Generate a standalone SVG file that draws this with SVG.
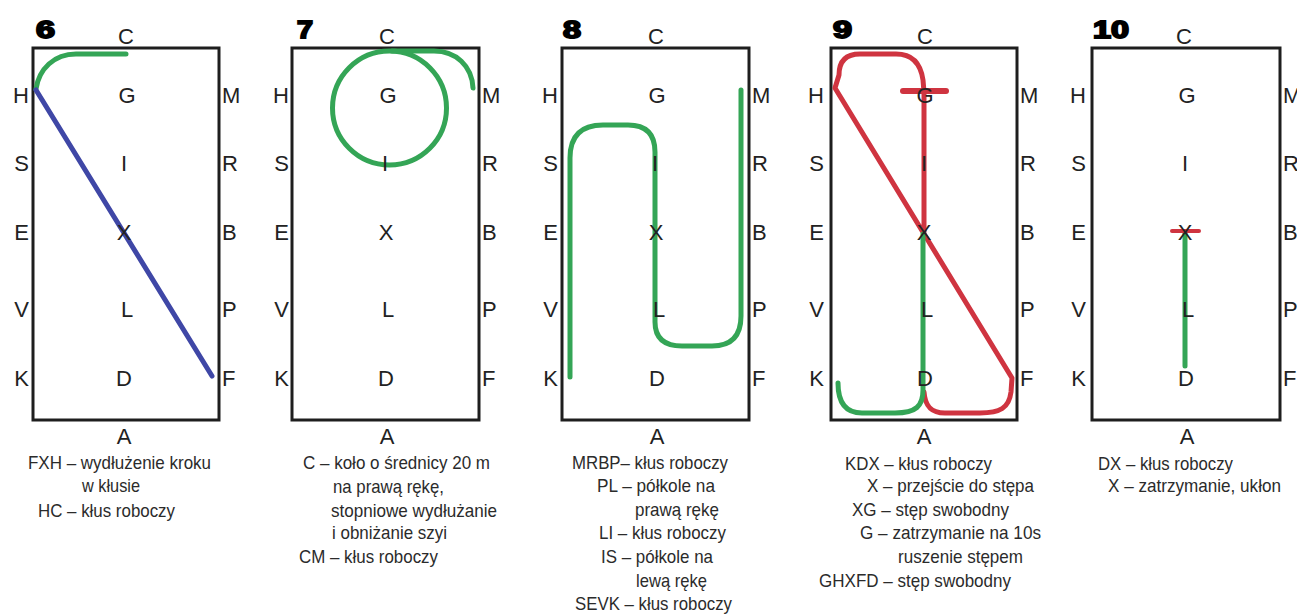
<svg xmlns="http://www.w3.org/2000/svg" width="1297" height="615" viewBox="0 0 1297 615">
<style>
.bg{fill:#ffffff}
.arena{fill:none;stroke:#1e1e1e;stroke-width:3}
.lbl{font-family:"Liberation Sans",Arial,sans-serif;font-size:22px;fill:#222}
.l{text-anchor:end}
.m{text-anchor:middle}
.num{font-family:"Liberation Sans",Arial,sans-serif;font-size:23px;font-weight:bold;fill:#000;stroke:#000;stroke-width:1.8}
.desc{font-family:"Liberation Sans",Arial,sans-serif;font-size:19px;fill:#2b2b2b}
.g{fill:none;stroke:#34a556;stroke-width:5;stroke-linecap:round;stroke-linejoin:round}
.b{fill:none;stroke:#3f47a6;stroke-width:5;stroke-linecap:round}
.r{fill:none;stroke:#cf3440;stroke-width:5;stroke-linecap:round;stroke-linejoin:round}
</style>
<rect class="bg" x="0" y="0" width="1297" height="615"/>

<!-- Panel 6 -->
<g id="panel6">
<rect class="arena" x="33" y="48" width="186" height="372"/>
<g id="paths6">
<path class="g" d="M126,54 H76 C54,54 39,69 36,89"/>
<path class="b" d="M36,90 L212,376"/>
</g>
<text class="num" x="36" y="38" textLength="19" lengthAdjust="spacingAndGlyphs">6</text>
<g class="lbl">
<text class="m" x="126" y="44">C</text>
<text class="l" x="29" y="103">H</text><text class="m" x="127" y="103">G</text><text x="222" y="103">M</text>
<text class="l" x="29" y="171">S</text><text class="m" x="124" y="171">I</text><text x="222" y="171">R</text>
<text class="l" x="29" y="240">E</text><text class="m" x="124" y="240">X</text><text x="222" y="240">B</text>
<text class="l" x="29" y="317">V</text><text class="m" x="127" y="317">L</text><text x="222" y="317">P</text>
<text class="l" x="29" y="386">K</text><text class="m" x="124" y="386">D</text><text x="222" y="386">F</text>
<text class="m" x="124" y="444">A</text>
</g>
<g class="desc">
<text x="28" y="469" textLength="183" lengthAdjust="spacingAndGlyphs">FXH – wydłużenie kroku</text>
<text x="82" y="492" textLength="58" lengthAdjust="spacingAndGlyphs">w kłusie</text>
<text x="38" y="517" textLength="137" lengthAdjust="spacingAndGlyphs">HC – kłus roboczy</text>
</g>
</g>

<!-- Panel 7 -->
<g id="panel7">
<rect class="arena" x="292" y="48" width="187" height="372"/>
<g id="paths7">
<circle class="g" cx="389.5" cy="108" r="57"/>
<path class="g" d="M392,51 H434 C456,51 472,66 473,88"/>
</g>
<text class="num" x="297" y="38" textLength="16" lengthAdjust="spacingAndGlyphs">7</text>
<g class="lbl">
<text class="m" x="387" y="44">C</text>
<text class="l" x="289" y="103">H</text><text class="m" x="388" y="103">G</text><text x="482" y="103">M</text>
<text class="l" x="289" y="171">S</text><text class="m" x="385" y="171">I</text><text x="482" y="171">R</text>
<text class="l" x="289" y="240">E</text><text class="m" x="386" y="240">X</text><text x="482" y="240">B</text>
<text class="l" x="289" y="317">V</text><text class="m" x="388" y="317">L</text><text x="482" y="317">P</text>
<text class="l" x="289" y="386">K</text><text class="m" x="386" y="386">D</text><text x="482" y="386">F</text>
<text class="m" x="387" y="444">A</text>
</g>
<g class="desc">
<text x="303" y="469" textLength="187" lengthAdjust="spacingAndGlyphs">C – koło o średnicy 20 m</text>
<text x="333" y="493" textLength="111" lengthAdjust="spacingAndGlyphs">na prawą rękę,</text>
<text x="331" y="517" textLength="166" lengthAdjust="spacingAndGlyphs">stopniowe wydłużanie</text>
<text x="332" y="539" textLength="115" lengthAdjust="spacingAndGlyphs">i obniżanie szyi</text>
<text x="299" y="563" textLength="139" lengthAdjust="spacingAndGlyphs">CM – kłus roboczy</text>
</g>
</g>

<!-- Panel 8 -->
<g id="panel8">
<rect class="arena" x="562" y="48" width="187" height="372"/>
<g id="paths8">
<path class="g" d="M570,377 V158 Q570,125 603,125 H628 Q655,125 655,152 V322 Q655,346 682,346 H712 Q741,346 741,316 V90"/>
</g>
<text class="num" x="563" y="38" textLength="18" lengthAdjust="spacingAndGlyphs">8</text>
<g class="lbl">
<text class="m" x="656" y="44">C</text>
<text class="l" x="558" y="103">H</text><text class="m" x="657" y="103">G</text><text x="752" y="103">M</text>
<text class="l" x="558" y="171">S</text><text class="m" x="655" y="171">I</text><text x="752" y="171">R</text>
<text class="l" x="558" y="240">E</text><text class="m" x="656" y="240">X</text><text x="752" y="240">B</text>
<text class="l" x="558" y="317">V</text><text class="m" x="659" y="317">L</text><text x="752" y="317">P</text>
<text class="l" x="558" y="386">K</text><text class="m" x="657" y="386">D</text><text x="752" y="386">F</text>
<text class="m" x="657" y="444">A</text>
</g>
<g class="desc">
<text x="572" y="469" textLength="156" lengthAdjust="spacingAndGlyphs">MRBP– kłus roboczy</text>
<text x="597" y="492" textLength="118" lengthAdjust="spacingAndGlyphs">PL – półkole na</text>
<text x="635" y="516" textLength="84" lengthAdjust="spacingAndGlyphs">prawą rękę</text>
<text x="599" y="539" textLength="127" lengthAdjust="spacingAndGlyphs">LI – kłus roboczy</text>
<text x="601" y="563" textLength="112" lengthAdjust="spacingAndGlyphs">IS – półkole na</text>
<text x="636" y="587" textLength="71" lengthAdjust="spacingAndGlyphs">lewą rękę</text>
<text x="575" y="610" textLength="157" lengthAdjust="spacingAndGlyphs">SEVK – kłus roboczy</text>
</g>
</g>

<!-- Panel 9 -->
<g id="panel9">
<rect class="arena" x="831" y="48" width="186" height="372"/>
<g id="paths9">
<path class="r" d="M924,232 V92 L923,80 C921,66 914,54 896,54 H860 C845,54 839,62 839,75 L835,88 L1012,378 L1011,392 C1009,408 1000,413 980,413 H945 C930,413 925,405 924,392"/>
<path class="r" d="M903,91 H946" style="stroke-width:6"/>
<path class="g" d="M923,234 V390 C923,406 916,413 895,413 H862 C845,413 838,402 838,383"/>
</g>
<text class="num" x="833" y="38" textLength="19" lengthAdjust="spacingAndGlyphs">9</text>
<g class="lbl">
<text class="m" x="925" y="44">C</text>
<text class="l" x="824" y="103">H</text><text class="m" x="925" y="103">G</text><text x="1020" y="103">M</text>
<text class="l" x="824" y="171">S</text><text class="m" x="924" y="171">I</text><text x="1020" y="171">R</text>
<text class="l" x="824" y="240">E</text><text class="m" x="924" y="240">X</text><text x="1020" y="240">B</text>
<text class="l" x="824" y="317">V</text><text class="m" x="927" y="317">L</text><text x="1020" y="317">P</text>
<text class="l" x="824" y="386">K</text><text class="m" x="925" y="386">D</text><text x="1020" y="386">F</text>
<text class="m" x="924" y="444">A</text>
</g>
<g class="desc">
<text x="845" y="470" textLength="147" lengthAdjust="spacingAndGlyphs">KDX – kłus roboczy</text>
<text x="867" y="492" textLength="167" lengthAdjust="spacingAndGlyphs">X – przejście do stępa</text>
<text x="852" y="516" textLength="157" lengthAdjust="spacingAndGlyphs">XG – stęp swobodny</text>
<text x="860" y="539" textLength="181" lengthAdjust="spacingAndGlyphs">G – zatrzymanie na 10s</text>
<text x="898" y="563" textLength="125" lengthAdjust="spacingAndGlyphs">ruszenie stępem</text>
<text x="819" y="587" textLength="192" lengthAdjust="spacingAndGlyphs">GHXFD – stęp swobodny</text>
</g>
</g>

<!-- Panel 10 -->
<g id="panel10">
<rect class="arena" x="1092" y="48" width="188" height="372"/>
<g id="paths10">
<path class="g" d="M1185,232 V366"/>
<path class="r" d="M1172,231 H1199" style="stroke-width:4"/>
</g>
<text class="num" x="1093" y="38" textLength="36" lengthAdjust="spacingAndGlyphs">10</text>
<g class="lbl">
<text class="m" x="1184" y="44">C</text>
<text class="l" x="1086" y="103">H</text><text class="m" x="1187" y="103">G</text><text x="1283" y="103">M</text>
<text class="l" x="1086" y="171">S</text><text class="m" x="1185" y="171">I</text><text x="1283" y="171">R</text>
<text class="l" x="1086" y="240">E</text><text class="m" x="1185" y="240">X</text><text x="1283" y="240">B</text>
<text class="l" x="1086" y="317">V</text><text class="m" x="1188" y="317">L</text><text x="1283" y="317">P</text>
<text class="l" x="1086" y="386">K</text><text class="m" x="1186" y="386">D</text><text x="1283" y="386">F</text>
<text class="m" x="1187" y="444">A</text>
</g>
<g class="desc">
<text x="1098" y="470" textLength="135" lengthAdjust="spacingAndGlyphs">DX – kłus roboczy</text>
<text x="1108" y="492" textLength="173" lengthAdjust="spacingAndGlyphs">X – zatrzymanie, ukłon</text>
</g>
</g>
</svg>
